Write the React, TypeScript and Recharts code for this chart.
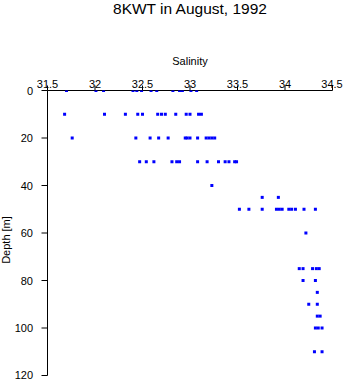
import React from "react";
import { ScatterChart, Scatter, XAxis, YAxis } from "recharts";

// salinity readings per sampling depth (m)
const depths = [0, 10, 20, 30, 40, 45, 50, 60, 75, 80, 85, 90, 95, 100, 110];
const sal0 = [31.7, 32.01, 32.09, 32.4, 32.44, 32.49, 32.59, 32.65, 32.82, 32.89, 32.92, 33.01, 33.07];
const sal10 = [31.68, 32.1, 32.32, 32.45, 32.5, 32.66, 32.7, 32.74, 32.85, 32.96, 33.0, 33.09, 33.12];
const sal20 = [31.76, 32.43, 32.58, 32.67, 32.77, 32.95, 32.97, 33.0, 33.08, 33.17, 33.2, 33.23, 33.26];
const sal30 = [32.47, 32.54, 32.62, 32.81, 32.86, 32.89, 33.08, 33.18, 33.3, 33.37, 33.41, 33.47, 33.49];
const sal40 = [33.23];
const sal45 = [33.76, 33.93];
const sal50 = [33.52, 33.62, 33.76, 33.91, 33.94, 33.97, 34.04, 34.07, 34.11, 34.2, 34.32];
const sal60 = [34.22];
const sal75 = [34.15, 34.19, 34.29, 34.33, 34.36];
const sal80 = [34.19, 34.32];
const sal85 = [34.34];
const sal90 = [34.25, 34.34];
const sal95 = [34.34, 34.37];
const sal100 = [34.32, 34.35, 34.39];
const sal110 = [34.31, 34.39];

const salByDepth = [sal0, sal10, sal20, sal30, sal40, sal45, sal50, sal60, sal75, sal80, sal85, sal90, sal95, sal100, sal110];

const salTicks = [31.5, 32, 32.5, 33, 33.5, 34, 34.5];
const depthTicks = [0, 20, 40, 60, 80, 100, 120];

const points = depths.flatMap((d, i) => salByDepth[i].map((s) => ({ sal: s, depth: d })));

const font = "'Liberation Sans', Arial, sans-serif";

const XTick = (props: any) => (
  <text x={props.x} y={88} textAnchor="middle" fontSize={11} fontFamily={font} fill="#000">
    {props.payload.value}
  </text>
);

const YTick = (props: any) => (
  <text x={33} y={props.y + 4} textAnchor="end" fontSize={11} fontFamily={font} fill="#000">
    {props.payload.value}
  </text>
);

const Square = (props: any) => (
  <rect x={props.cx - 1.5} y={props.cy - 1.5} width={3} height={3} fill="#0000ff" />
);

export default function App() {
  return (
    <div style={{ position: "absolute", left: 0, top: 0, width: 346, height: 384, background: "#fff" }}>
      <div
        style={{
          position: "absolute",
          left: 0,
          width: 380,
          top: 0,
          textAlign: "center",
          fontFamily: font,
          fontSize: 15.5,
          lineHeight: "18px",
        }}
      >
        8KWT in August, 1992
      </div>
      <ScatterChart width={346} height={384} margin={{ top: 60, right: 13.5, bottom: 8.5, left: 0 }}>
        <XAxis
          type="number"
          dataKey="sal"
          orientation="top"
          domain={[31.5, 34.5]}
          ticks={salTicks}
          allowDataOverflow
          height={30.5}
          tickSize={5}
          stroke="#000"
          tick={<XTick />}
          label={{
            value: "Salinity",
            content: () => (
              <text x={190} y={65} textAnchor="middle" fontSize={11} fontFamily={font} fill="#000">
                Salinity
              </text>
            ),
          }}
        />
        <YAxis
          type="number"
          dataKey="depth"
          reversed
          domain={[0, 120]}
          ticks={depthTicks}
          allowDataOverflow
          width={47.5}
          tickSize={6}
          stroke="#000"
          tick={<YTick />}
          label={{
            value: "Depth [m]",
            content: () => (
              <text
                x={0}
                y={0}
                transform="translate(10 240) rotate(-90)"
                textAnchor="middle"
                fontSize={11}
                fontFamily={font}
                fill="#000"
              >
                Depth [m]
              </text>
            ),
          }}
        />
        <Scatter data={points} shape={<Square />} isAnimationActive={false} />
      </ScatterChart>
    </div>
  );
}
